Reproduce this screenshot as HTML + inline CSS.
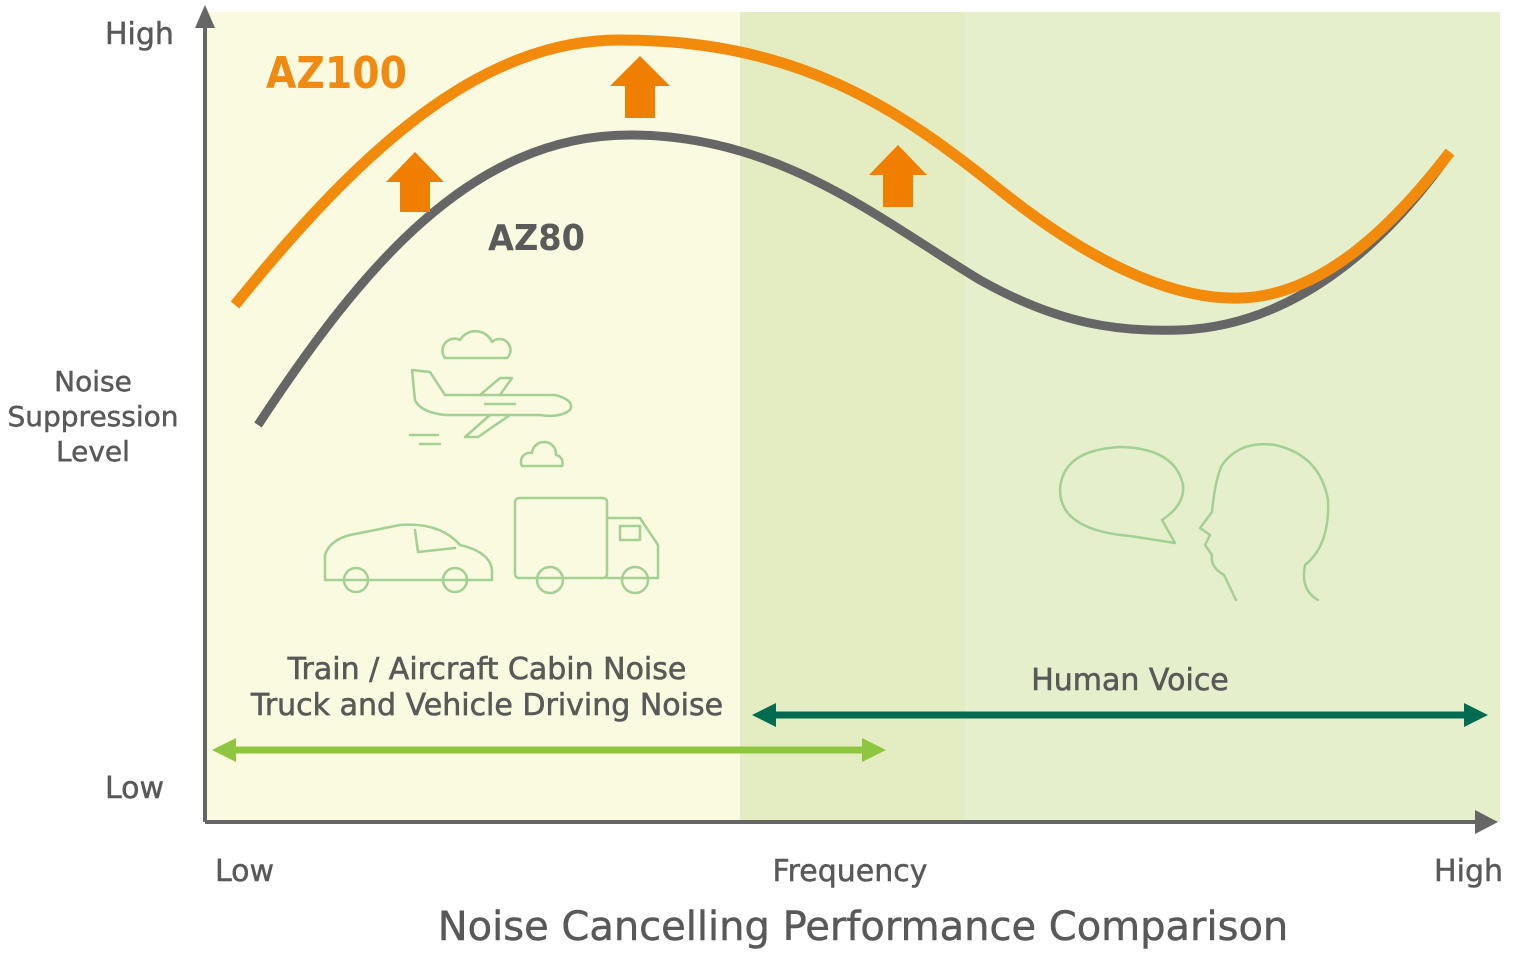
<!DOCTYPE html>
<html><head><style>
html,body{margin:0;padding:0;background:#fff;}
svg{display:block;}
text{font-family:"DejaVu Sans","Liberation Sans",sans-serif;fill:#595959;}
</style></head><body>
<svg width="1520" height="968" viewBox="0 0 1520 968" xmlns="http://www.w3.org/2000/svg">
<rect x="205" y="12" width="535" height="810" fill="#f9fadf"/>
<rect x="740" y="12" width="225" height="810" fill="#e4edc1"/>
<rect x="965" y="12" width="535" height="810" fill="#e6efcb"/>
<!-- axes -->
<line x1="205" y1="822" x2="205" y2="20" stroke="#666" stroke-width="4"/>
<polygon points="195,28 205,5 215,28" fill="#666"/>
<line x1="205" y1="822" x2="1480" y2="822" stroke="#666" stroke-width="4"/>
<polygon points="1475,810 1498,822 1475,834" fill="#666"/>
<!-- icons -->
<g fill="none" stroke="#a3d093" stroke-width="2.5" stroke-linecap="round" stroke-linejoin="round">
<path d="M445,358 a12,12 0 0 1 15,-18 a18,18 0 0 1 32,2 a10,10 0 0 1 15,16 z"/>
<path d="M522,466 a9,9 0 0 1 10,-13 a12,12 0 0 1 24,2 a8,8 0 0 1 6,11 z"/>
<path d="M412,370 L430,372 L445,395 L555,395 Q575,400 570,410 Q560,418 540,415 L445,415 Q420,412 415,400 Z"/>
<path d="M490,415 L465,437 L478,437 L510,415"/>
<path d="M480,395 L500,378 L512,378 L500,395"/>
<path d="M485,404 h30"/>
<path d="M410,435 h28 M420,444 h20"/>
<path d="M325,578 L325,555 Q330,540 350,535 L400,525 Q440,522 460,545 Q490,552 492,570 L492,580 L325,580"/>
<circle cx="356" cy="580" r="12"/><circle cx="455" cy="580" r="12"/>
<path d="M415,530 L418,552 L455,548"/>
<rect x="515" y="498" width="92" height="80" rx="4"/>
<path d="M607,518 L640,518 L658,545 L658,578 L607,578"/>
<rect x="620" y="526" width="20" height="14"/>
<circle cx="550" cy="580" r="13"/><circle cx="635" cy="580" r="13"/>
<path d="M1130,536 Q1060,530 1060,490 Q1062,450 1120,447 Q1175,448 1183,485 Q1185,505 1162,520 L1175,543 Z"/>
<path d="M1236,600 L1224,575 Q1210,567 1212,555 L1205,545 L1210,535 L1200,528 L1212,512 Q1215,480 1222,465 Q1240,440 1275,445 Q1320,455 1328,500 Q1330,545 1305,565 Q1300,590 1318,600"/>
</g>
<!-- curves -->
<path d="M258,425 C360,270 470,135 630,135 C780,135 880,220 980,280 C1060,325 1120,332 1180,330 C1290,326 1380,250 1445,160" fill="none" stroke="#666" stroke-width="9"/>
<path d="M235,305 C360,150 480,40 620,40 C800,40 900,110 1000,190 C1100,270 1180,300 1240,298 C1320,296 1390,230 1450,152" fill="none" stroke="#f28a0c" stroke-width="11"/>
<g fill="#f07f00">
<polygon points="386,182 415,152 444,182 430,182 430,212 400,212 400,182"/>
<polygon points="610,86 640,56 670,86 655,86 655,118 625,118 625,86"/>
<polygon points="869,175 898,145 927,175 913,175 913,207 883,207 883,175"/>
</g>
<text x="266" y="88" font-size="44" font-weight="bold" textLength="141" lengthAdjust="spacingAndGlyphs" style="fill:#f08a10">AZ100</text>
<text x="488" y="250" font-size="36" font-weight="bold" textLength="97" lengthAdjust="spacingAndGlyphs" style="fill:#5a5a5a">AZ80</text>
<!-- range arrows -->
<line x1="230" y1="750" x2="870" y2="750" stroke="#8ec63f" stroke-width="7"/>
<polygon points="212,750 236,738 236,762" fill="#8ec63f"/>
<polygon points="886,750 862,738 862,762" fill="#8ec63f"/>
<line x1="770" y1="715" x2="1470" y2="715" stroke="#006b50" stroke-width="7"/>
<polygon points="752,715 776,703 776,727" fill="#006b50"/>
<polygon points="1488,715 1464,703 1464,727" fill="#006b50"/>
<text x="487" y="679" font-size="30" text-anchor="middle" stroke="#595959" stroke-width="0.6">Train / Aircraft Cabin Noise</text>
<text x="487" y="715" font-size="30" text-anchor="middle" stroke="#595959" stroke-width="0.6">Truck and Vehicle Driving Noise</text>
<text x="1130" y="690" font-size="30" text-anchor="middle" stroke="#595959" stroke-width="0.6">Human Voice</text>
<!-- axis labels -->
<text x="105" y="44" font-size="30" stroke="#595959" stroke-width="0.5">High</text>
<text x="105" y="798" font-size="30" stroke="#595959" stroke-width="0.5">Low</text>
<text x="93" y="391" font-size="28" text-anchor="middle" stroke="#595959" stroke-width="0.5">Noise</text>
<text x="93" y="426" font-size="28" text-anchor="middle" stroke="#595959" stroke-width="0.5">Suppression</text>
<text x="93" y="461" font-size="28" text-anchor="middle" stroke="#595959" stroke-width="0.5">Level</text>
<text x="215" y="881" font-size="30" stroke="#595959" stroke-width="0.5">Low</text>
<text x="850" y="881" font-size="30" text-anchor="middle" stroke="#595959" stroke-width="0.5">Frequency</text>
<text x="1503" y="881" font-size="30" text-anchor="end" stroke="#595959" stroke-width="0.5">High</text>
<text x="863" y="940" font-size="40" text-anchor="middle" stroke="#595959" stroke-width="0.5">Noise Cancelling Performance Comparison</text>
</svg>
</body></html>
